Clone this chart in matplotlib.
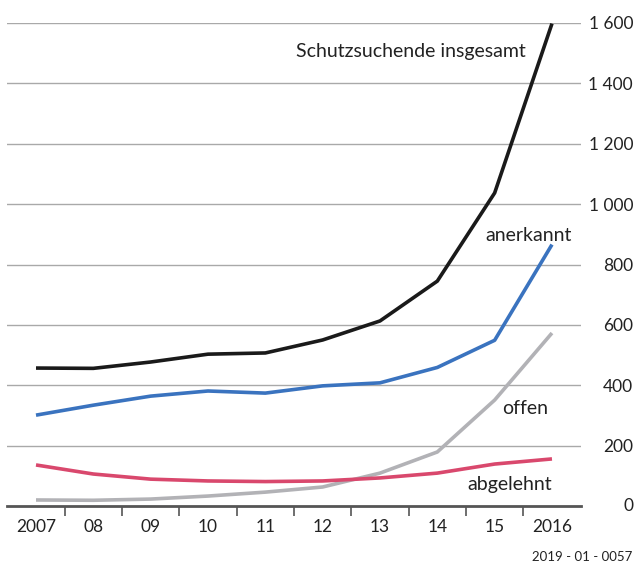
import numpy as np
import matplotlib.pyplot as plt
from matplotlib.ticker import FixedLocator, FuncFormatter

plt.rcParams['font.family'] = ['Lato', 'DejaVu Sans']

years = ['2007', '08', '09', '10', '11', '12', '13', '14', '15', '2016']
insgesamt = [457, 456, 477, 503, 507, 550, 613, 745, 1037, 1598]
anerkannt = [301, 334, 364, 381, 374, 398, 408, 459, 549, 866]
offen = [20, 19, 23, 33, 46, 63, 109, 179, 351, 573]
abgelehnt = [136, 106, 89, 83, 81, 83, 93, 109, 139, 156]

x = np.arange(len(years))

fig = plt.figure(figsize=(6.36, 5.65), dpi=100)
ax = fig.add_axes([0.011, 0.1044, 0.9025, 0.8549])

lw = 2.6
ax.plot(x, offen, color='#b2b2b6', lw=lw, clip_on=False, solid_capstyle='butt')
ax.plot(x, abgelehnt, color='#d9486d', lw=lw, clip_on=False, solid_capstyle='butt')
ax.plot(x, anerkannt, color='#3a73bf', lw=lw, clip_on=False, solid_capstyle='butt')
ax.plot(x, insgesamt, color='#1a1a1a', lw=lw, clip_on=False, solid_capstyle='butt')

fs = 12.5
afs = 14
ax.text(4.535, 1505, 'Schutzsuchende insgesamt', fontsize=afs, color='#222222', va='center')
ax.text(7.83, 897, 'anerkannt', fontsize=afs, color='#222222', va='center')
ax.text(8.13, 322, 'offen', fontsize=afs, color='#222222', va='center')
ax.text(7.52, 72, 'abgelehnt', fontsize=afs, color='#222222', va='center')

ax.set_xlim(-0.506, 9.506)
ax.set_ylim(0, 1600)

ax.set_yticks(np.arange(200, 1601, 200))
ax.yaxis.set_major_formatter(FuncFormatter(lambda v, p: f'{int(v):,}'.replace(',', ' ')))
ax.grid(axis='y', color='#a9a9a9', lw=1)
ax.set_axisbelow(True)
ax.tick_params(axis='y', left=False, labelleft=False, right=False, labelright=True,
               length=0, pad=37.5, labelsize=fs, labelcolor='#222222')
for lbl in ax.get_yticklabels():
    lbl.set_ha('right')
fig.text(0.9953, 1 - 506 / 565, '0', fontsize=fs, color='#222222', ha='right', va='center')

ax.set_xticks(x)
ax.set_xticklabels(years)
ax.xaxis.set_minor_locator(FixedLocator(x[:-1] + 0.5))
ax.tick_params(axis='x', which='major', length=0, pad=9, labelsize=fs, labelcolor='#222222')
ax.tick_params(axis='x', which='minor', length=7, width=1.2, color='#555555', direction='out')

for s in ['top', 'left', 'right']:
    ax.spines[s].set_visible(False)
ax.spines['bottom'].set_color('#555555')
ax.spines['bottom'].set_linewidth(2)

fig.text(0.994, 1 - 557 / 565, '2019 - 01 - 0057', fontsize=9.5, color='#222222',
         ha='right', va='center')

fig.savefig('out.png', dpi=100)
